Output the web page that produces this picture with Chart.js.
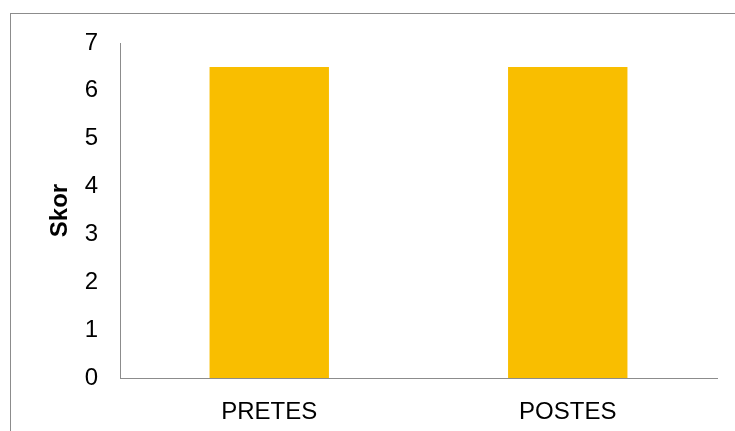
<!DOCTYPE html>
<html>
<head>
<meta charset="utf-8">
<script src="https://cdn.jsdelivr.net/npm/chart.js@4"></script>
<style>
  body { margin: 0; background: #fff; }
  #wrap { position: relative; width: 735px; height: 431px; overflow: hidden; }
  #frame { position: absolute; left: 10px; top: 13px; width: 800px; height: 500px;
           border-top: 1px solid #8c8c8c; border-left: 1px solid #8c8c8c; }
  canvas { position: absolute; left: 0; top: 0; }
</style>
</head>
<body>
<div id="wrap">
  <div id="frame"></div>
  <canvas id="skorChart" width="735" height="431"></canvas>
</div>
<script>
// data
const categories = ['PRETES', 'POSTES'];
const skorValues = [6.5, 6.5];
const yTicks = [0, 1, 2, 3, 4, 5, 6, 7];

const axisColor = '#8c8c8c';
const fontFamily = '"Liberation Sans", Arial, sans-serif';

const ctx = document.getElementById('skorChart').getContext('2d');
new Chart(ctx, {
    type: 'bar',
    data: {
        labels: categories,
        datasets: [{
            label: 'Skor',
            data: skorValues,
            backgroundColor: '#F9BE00',
            categoryPercentage: 0.4,
            barPercentage: 1.0
        }]
    },
    options: {
        responsive: false,
        animation: false,
        layout: { padding: { top: 43, right: 18, bottom: 0, left: 0 } },
        plugins: {
            legend: { display: false },
            tooltip: { enabled: false }
        },
        scales: {
            y: {
                min: yTicks[0],
                max: yTicks[yTicks.length - 1],
                afterBuildTicks: function(scale) {
                    scale.ticks = yTicks.map(v => ({ value: v }));
                },
                afterFit: function(scale) { scale.width = 120; },
                grid: { display: false, drawTicks: false },
                border: { display: true, color: axisColor, width: 1 },
                ticks: {
                    color: '#000',
                    padding: 22,
                    font: { family: fontFamily, size: 24 }
                },
                title: {
                    display: true,
                    text: 'Skor',
                    color: '#000',
                    padding: { top: 46, bottom: 0 },
                    font: { family: fontFamily, size: 24, weight: 'bold' }
                }
            },
            x: {
                afterFit: function(scale) { scale.height = 53; },
                grid: { display: false, drawTicks: false },
                border: { display: true, color: axisColor, width: 1 },
                ticks: {
                    color: '#000',
                    padding: 20,
                    font: { family: fontFamily, size: 24 }
                }
            }
        }
    }
});
</script>
</body>
</html>
